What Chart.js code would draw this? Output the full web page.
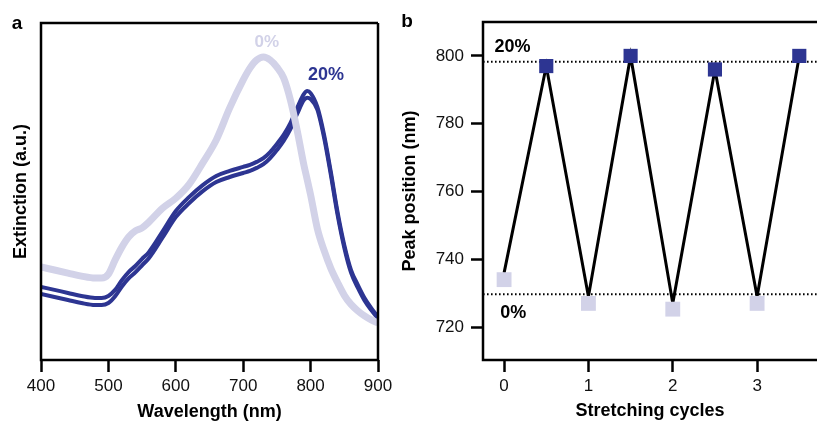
<!DOCTYPE html>
<html>
<head>
<meta charset="utf-8">
<script src="https://cdn.jsdelivr.net/npm/chart.js@4.4.1/dist/chart.umd.min.js"></script>
<style>
  html, body { margin: 0; padding: 0; background: #fff; }
  #wrap { position: relative; width: 817px; height: 421px; overflow: hidden; }
  #chartA { position: absolute; left: 0; top: 0; }
  #chartB { position: absolute; left: 400px; top: 0; }
</style>
</head>
<body>
<div id="wrap">
  <canvas id="chartA" width="400" height="421"></canvas>
  <canvas id="chartB" width="417" height="421"></canvas>
</div>
<script>
// ---- panel a data : extinction spectra ----
const wavelengths = [400, 420, 440, 460, 480, 490, 500, 510, 520, 530, 540, 550, 560, 580, 600, 620, 640, 660, 680, 700,
  710, 720, 730, 740, 750, 760, 770, 780, 790, 795, 800, 810, 820, 830, 840, 850, 860, 870, 880, 890, 900];
const ext0 = [0.276, 0.267, 0.258, 0.249, 0.243, 0.243, 0.255, 0.297, 0.335, 0.365, 0.383, 0.392, 0.409, 0.450, 0.480, 0.522, 0.585, 0.653, 0.748, 0.831,
  0.866, 0.890, 0.899, 0.890, 0.869, 0.837, 0.772, 0.682, 0.579, 0.535, 0.490, 0.390, 0.325, 0.272, 0.230, 0.192, 0.165, 0.146, 0.131, 0.119, 0.110];
const ext20a = [0.217, 0.208, 0.199, 0.190, 0.184, 0.184, 0.190, 0.208, 0.237, 0.261, 0.279, 0.300, 0.320, 0.380, 0.442, 0.484, 0.519, 0.546, 0.561, 0.573,
  0.579, 0.588, 0.599, 0.617, 0.641, 0.668, 0.703, 0.748, 0.789, 0.798, 0.792, 0.751, 0.668, 0.558, 0.439, 0.341, 0.267, 0.223, 0.184, 0.154, 0.128];
const ext20b = [0.196, 0.187, 0.178, 0.169, 0.163, 0.163, 0.169, 0.189, 0.218, 0.242, 0.260, 0.281, 0.302, 0.362, 0.424, 0.466, 0.501, 0.528, 0.543, 0.555,
  0.561, 0.570, 0.581, 0.599, 0.623, 0.650, 0.685, 0.730, 0.771, 0.778, 0.774, 0.743, 0.660, 0.550, 0.431, 0.333, 0.259, 0.215, 0.177, 0.148, 0.123];
const wlTicks = [400, 500, 600, 700, 800, 900];

// ---- panel b data : peak position vs stretching cycles ----
const relaxedCycles = [0, 1, 2, 3];
const relaxedPeak = [734, 727, 725.3, 727];
const stretchedCycles = [0.5, 1.5, 2.5, 3.5];
const stretchedPeak = [797, 800, 796, 800];
const zigzagCycles = [0, 0.5, 1, 1.5, 2, 2.5, 3, 3.5];
const zigzagPeak = [736, 797, 729, 800, 727, 796, 729, 800];
const strainLevels = [798.3, 729.7];
const cycleTicks = [0, 1, 2, 3];
const peakTicks = [720, 740, 760, 780, 800];

const DARK = '#2d3592';
const LIGHT = '#d2d2e8';
const FONT = 'Liberation Sans, Arial, Helvetica, sans-serif';

// frame round the plot area
const framePlugin = {
  id: 'frame',
  afterDatasetsDraw(chart, args, opts) {
    const a = chart.chartArea;
    const ctx = chart.ctx;
    ctx.save();
    ctx.strokeStyle = '#000';
    ctx.lineWidth = 2.5;
    ctx.beginPath();
    ctx.moveTo(a.right, a.top);
    ctx.lineTo(a.left, a.top);
    ctx.lineTo(a.left, a.bottom);
    ctx.lineTo(a.right, a.bottom);
    if (opts.right) ctx.lineTo(a.right, a.top);
    ctx.stroke();
    ctx.restore();
  }
};

// text notes placed in data coordinates, plus the panel letter
const notesPlugin = {
  id: 'notes',
  afterDatasetsDraw(chart, args, opts) {
    const ctx = chart.ctx;
    ctx.save();
    ctx.textAlign = 'center';
    ctx.textBaseline = 'middle';
    opts.items.forEach(n => {
      ctx.font = 'bold ' + n.size + 'px ' + FONT;
      ctx.fillStyle = n.color;
      ctx.fillText(n.text, chart.scales.x.getPixelForValue(n.x), chart.scales.y.getPixelForValue(n.y));
    });
    ctx.font = 'bold 19px ' + FONT;
    ctx.fillStyle = '#000';
    ctx.fillText(opts.letter.text, opts.letter.px, opts.letter.py);
    ctx.restore();
  }
};

const tickGrid = {
  display: true,
  drawOnChartArea: false,
  drawTicks: true,
  tickLength: 12,
  tickWidth: 2.5,
  tickColor: '#000'
};

// ================= PANEL A =================
const lineOf = (ys, color, width) => ({
  data: wavelengths.map((w, i) => ({ x: w, y: ys[i] })),
  borderColor: color,
  borderWidth: width,
  pointRadius: 0,
  fill: false,
  cubicInterpolationMode: 'monotone'
});

new Chart(document.getElementById('chartA'), {
  type: 'line',
  data: {
    datasets: [
      lineOf(ext0, LIGHT, 7),
      lineOf(ext20a, DARK, 4),
      lineOf(ext20b, DARK, 4)
    ]
  },
  options: {
    responsive: false,
    animation: false,
    devicePixelRatio: 1,
    layout: { autoPadding: false, padding: { top: 23, right: 22, left: 0, bottom: 0 } },
    plugins: {
      legend: { display: false },
      tooltip: { enabled: false },
      frame: { right: true },
      notes: {
        items: [
          { text: '0%', x: 735, y: 0.944, color: LIGHT, size: 17 },
          { text: '20%', x: 823, y: 0.846, color: DARK, size: 18 }
        ],
        letter: { text: 'a', px: 17, py: 24 }
      }
    },
    scales: {
      x: {
        type: 'linear',
        min: 400,
        max: 900,
        afterBuildTicks: s => { s.ticks = wlTicks.map(v => ({ value: v })); },
        afterFit: s => { s.height = 61; },
        grid: tickGrid,
        border: { display: false },
        ticks: { color: '#111', padding: 4, maxRotation: 0, autoSkip: false, font: { family: FONT, size: 17 } },
        title: {
          display: true,
          text: 'Wavelength (nm)',
          color: '#000',
          padding: { top: 0, bottom: 0 },
          font: { family: FONT, size: 18, weight: 'bold', lineHeight: 1 }
        }
      },
      y: {
        min: 0,
        max: 1,
        afterFit: s => { s.width = 41; },
        grid: { display: false },
        border: { display: false },
        ticks: { display: false },
        title: {
          display: true,
          text: 'Extinction (a.u.)',
          color: '#000',
          padding: { top: 12, bottom: 0 },
          font: { family: FONT, size: 18, weight: 'bold', lineHeight: 1 }
        }
      }
    }
  },
  plugins: [framePlugin, notesPlugin]
});

// ================= PANEL B =================
const xMinB = -0.25, xMaxB = 3.71;

new Chart(document.getElementById('chartB'), {
  type: 'scatter',
  data: {
    datasets: [
      {
        data: stretchedCycles.map((c, i) => ({ x: c, y: stretchedPeak[i] })),
        pointStyle: 'rect',
        pointRadius: 10,
        backgroundColor: DARK,
        borderWidth: 0
      },
      {
        data: relaxedCycles.map((c, i) => ({ x: c, y: relaxedPeak[i] })),
        pointStyle: 'rect',
        pointRadius: 10.5,
        backgroundColor: LIGHT,
        borderWidth: 0
      },
      {
        type: 'line',
        data: zigzagCycles.map((c, i) => ({ x: c, y: zigzagPeak[i] })),
        borderColor: '#000',
        borderWidth: 3,
        borderJoinStyle: 'miter',
        pointRadius: 0,
        tension: 0
      },
      ...strainLevels.map(lv => ({
        type: 'line',
        data: [{ x: xMinB, y: lv }, { x: xMaxB, y: lv }],
        borderColor: '#000',
        borderWidth: 2,
        borderDash: [1.6, 2.4],
        pointRadius: 0
      }))
    ]
  },
  options: {
    responsive: false,
    animation: false,
    devicePixelRatio: 1,
    layout: { autoPadding: false, padding: { top: 22, right: 0, left: 0, bottom: 0 } },
    plugins: {
      legend: { display: false },
      tooltip: { enabled: false },
      frame: { right: false },
      notes: {
        items: [
          { text: '20%', x: 0.1, y: 802.7, color: '#000', size: 18 },
          { text: '0%', x: 0.11, y: 724.1, color: '#000', size: 18 }
        ],
        letter: { text: 'b', px: 7, py: 22 }
      }
    },
    scales: {
      x: {
        type: 'linear',
        min: xMinB,
        max: xMaxB,
        afterBuildTicks: s => { s.ticks = cycleTicks.map(v => ({ value: v })); },
        afterFit: s => { s.height = 61; },
        grid: tickGrid,
        border: { display: false },
        ticks: { color: '#111', padding: 4, maxRotation: 0, autoSkip: false, font: { family: FONT, size: 17 } },
        title: {
          display: true,
          text: 'Stretching cycles',
          color: '#000',
          padding: { top: 0, bottom: 1 },
          font: { family: FONT, size: 18, weight: 'bold', lineHeight: 1 }
        }
      },
      y: {
        min: 710.3,
        max: 810,
        afterBuildTicks: s => { s.ticks = peakTicks.map(v => ({ value: v })); },
        afterFit: s => { s.width = 83; },
        grid: tickGrid,
        border: { display: false },
        ticks: { color: '#111', padding: 7, font: { family: FONT, size: 17 } },
        title: {
          display: true,
          text: 'Peak position (nm)',
          color: '#000',
          padding: { top: 1, bottom: 0 },
          font: { family: FONT, size: 18, weight: 'bold', lineHeight: 1 }
        }
      }
    }
  },
  plugins: [framePlugin, notesPlugin]
});
</script>
</body>
</html>
